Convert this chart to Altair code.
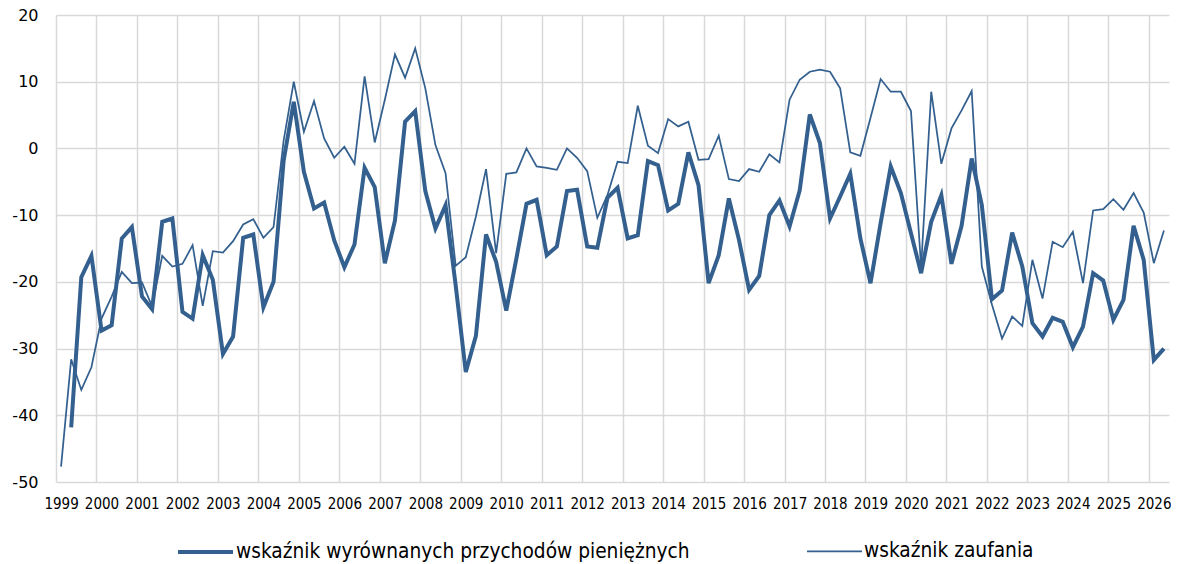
import altair as alt
import pandas as pd

years = list(range(1999, 2027))
series_names = ["wskaźnik wyrównanych przychodów pieniężnych", "wskaźnik zaufania"]

# quarterly values, 1999Q1 .. 2026Q2
przychody = [
    None, -41.8, -19.3, -16.1,
    -27.3, -26.5, -13.5, -11.8,
    -22.2, -24.1, -11.0, -10.5,
    -24.5, -25.5, -16.0, -19.7,
    -30.8, -28.2, -13.4, -12.9,
    -23.8, -20.0, -1.8, 7.0,
    -3.5, -9.0, -8.1, -13.8,
    -17.8, -14.4, -2.9, -5.8,
    -17.2, -10.8, 4.0, 5.6,
    -6.4, -12.0, -8.5, -20.5,
    -33.5, -28.1, -12.9, -17.0,
    -24.3, -16.5, -8.3, -7.7,
    -16.0, -14.7, -6.4, -6.2,
    -14.7, -14.9, -7.4, -5.9,
    -13.5, -13.0, -1.9, -2.5,
    -9.3, -8.3, -0.6, -5.5,
    -20.2, -16.0, -7.5, -13.7,
    -21.2, -19.1, -10.0, -7.8,
    -11.7, -6.3, 5.1, 0.8,
    -10.5, -7.2, -3.8, -13.5,
    -20.2, -11.2, -2.7, -6.7,
    -12.7, -18.7, -11.0, -7.0,
    -17.3, -11.6, -1.5, -8.5,
    -22.6, -21.3, -12.6, -17.7,
    -26.2, -28.2, -25.4, -26.0,
    -29.8, -26.7, -18.7, -19.8,
    -25.7, -22.7, -11.6, -16.7,
    -31.7, -30.0,
]

zaufanie = [
    -47.7, -31.6, -36.2, -32.8,
    -25.5, -22.2, -18.5, -20.2,
    -20.1, -23.7, -16.1, -17.7,
    -17.3, -14.5, -23.6, -15.4,
    -15.6, -13.9, -11.4, -10.6,
    -13.4, -11.8, 1.2, 10.0,
    2.5, 7.1, 1.5, -1.4,
    0.25, -2.3, 10.8, 0.9,
    7.3, 14.1, 10.6, 15.0,
    9.0, 0.5, -3.7, -17.6,
    -16.3, -10.2, -3.1, -15.7,
    -3.8, -3.6, 0.0, -2.7,
    -2.9, -3.2, 0.0, -1.4,
    -3.4, -10.4, -7.0, -2.0,
    -2.2, 6.4, 0.4, -0.7,
    4.4, 3.3, 4.0, -1.7,
    -1.6, 1.9, -4.6, -4.9,
    -3.1, -3.5, -0.9, -2.1,
    7.3, 10.3, 11.5, 11.8,
    11.5, 9.0, -0.6, -1.1,
    4.6, 10.4, 8.5, 8.5,
    5.6, -17.8, 8.5, -2.3,
    3.0, 5.7, 8.6, -17.7,
    -23.4, -28.5, -25.2, -26.6,
    -16.7, -22.5, -14.0, -14.8,
    -12.5, -20.2, -9.3, -9.1,
    -7.6, -9.2, -6.7, -9.6,
    -17.2, -12.3,
]

line_color = "#34608f"
grid_color = "#d9d9d9"
cond_font = "DejaVu Sans Condensed, Liberation Sans, sans-serif"
n = len(zaufanie)

rows = []
for name, vals in zip(series_names, [przychody, zaufanie]):
    for i, v in enumerate(vals):
        if v is not None:
            rows.append({"t": i, "value": v, "series": name})
df = pd.DataFrame(rows)

year_df = pd.DataFrame({"t": [4 * k for k in range(len(years))], "year": years})

x_scale = alt.Scale(domain=[-0.5, n - 0.5], nice=False, zero=False)
grid_values = [4 * k - 0.5 for k in range(len(years))]

lines = alt.Chart(df).mark_line(color=line_color).encode(
    x=alt.X(
        "t:Q", scale=x_scale,
        axis=alt.Axis(
            values=grid_values, labels=False, title=None, grid=True,
            ticks=False, domain=False, orient="bottom",
            gridColor=grid_color, gridWidth=1.5,
        ),
    ),
    y=alt.Y(
        "value:Q",
        scale=alt.Scale(domain=[-50, 20], nice=False, zero=False),
        axis=alt.Axis(
            values=list(range(-50, 21, 10)),
            labelExpr="'' + datum.value",
            title=None, ticks=False, domain=False, labelPadding=18,
            labelFont="DejaVu Sans", labelFontSize=16, labelColor="#000000",
            gridColor=grid_color, gridWidth=1.5,
        ),
    ),
    strokeWidth=alt.StrokeWidth(
        "series:N",
        scale=alt.Scale(domain=series_names, range=[4, 1.75]),
        legend=alt.Legend(
            title=None, orient="none", legendX=120, legendY=507,
            direction="horizontal", symbolType="stroke", symbolSize=3025,
            symbolStrokeColor=line_color,
            labelFont=cond_font,
            labelFontSize=20.7, labelColor="#000000", labelLimit=1000,
            columnPadding=113, labelOffset=1, padding=0,
        ),
    ),
)

year_labels = alt.Chart(year_df).mark_point(opacity=0).encode(
    x=alt.X(
        "t:Q", scale=x_scale,
        axis=alt.Axis(
            values=[4 * k for k in range(len(years))],
            labelExpr=f"'' + ({years[0]} + datum.value / 4)",
            title=None, grid=False, ticks=False, domain=False, orient="bottom",
            labelPadding=14, labelFlush=False, labelOverlap=False,
            labelFont=cond_font, labelFontSize=15, labelColor="#000000",
        ),
    ),
)

chart = alt.layer(lines, year_labels).resolve_axis(x="independent").properties(
    width=1113, height=467,
    autosize=alt.AutoSizeParams(type="none"),
    padding={"left": 48, "top": 7, "right": 2, "bottom": 80},
).configure_view(stroke=None)

chart.save("out.html", embed_options={"renderer": "svg", "actions": False})
